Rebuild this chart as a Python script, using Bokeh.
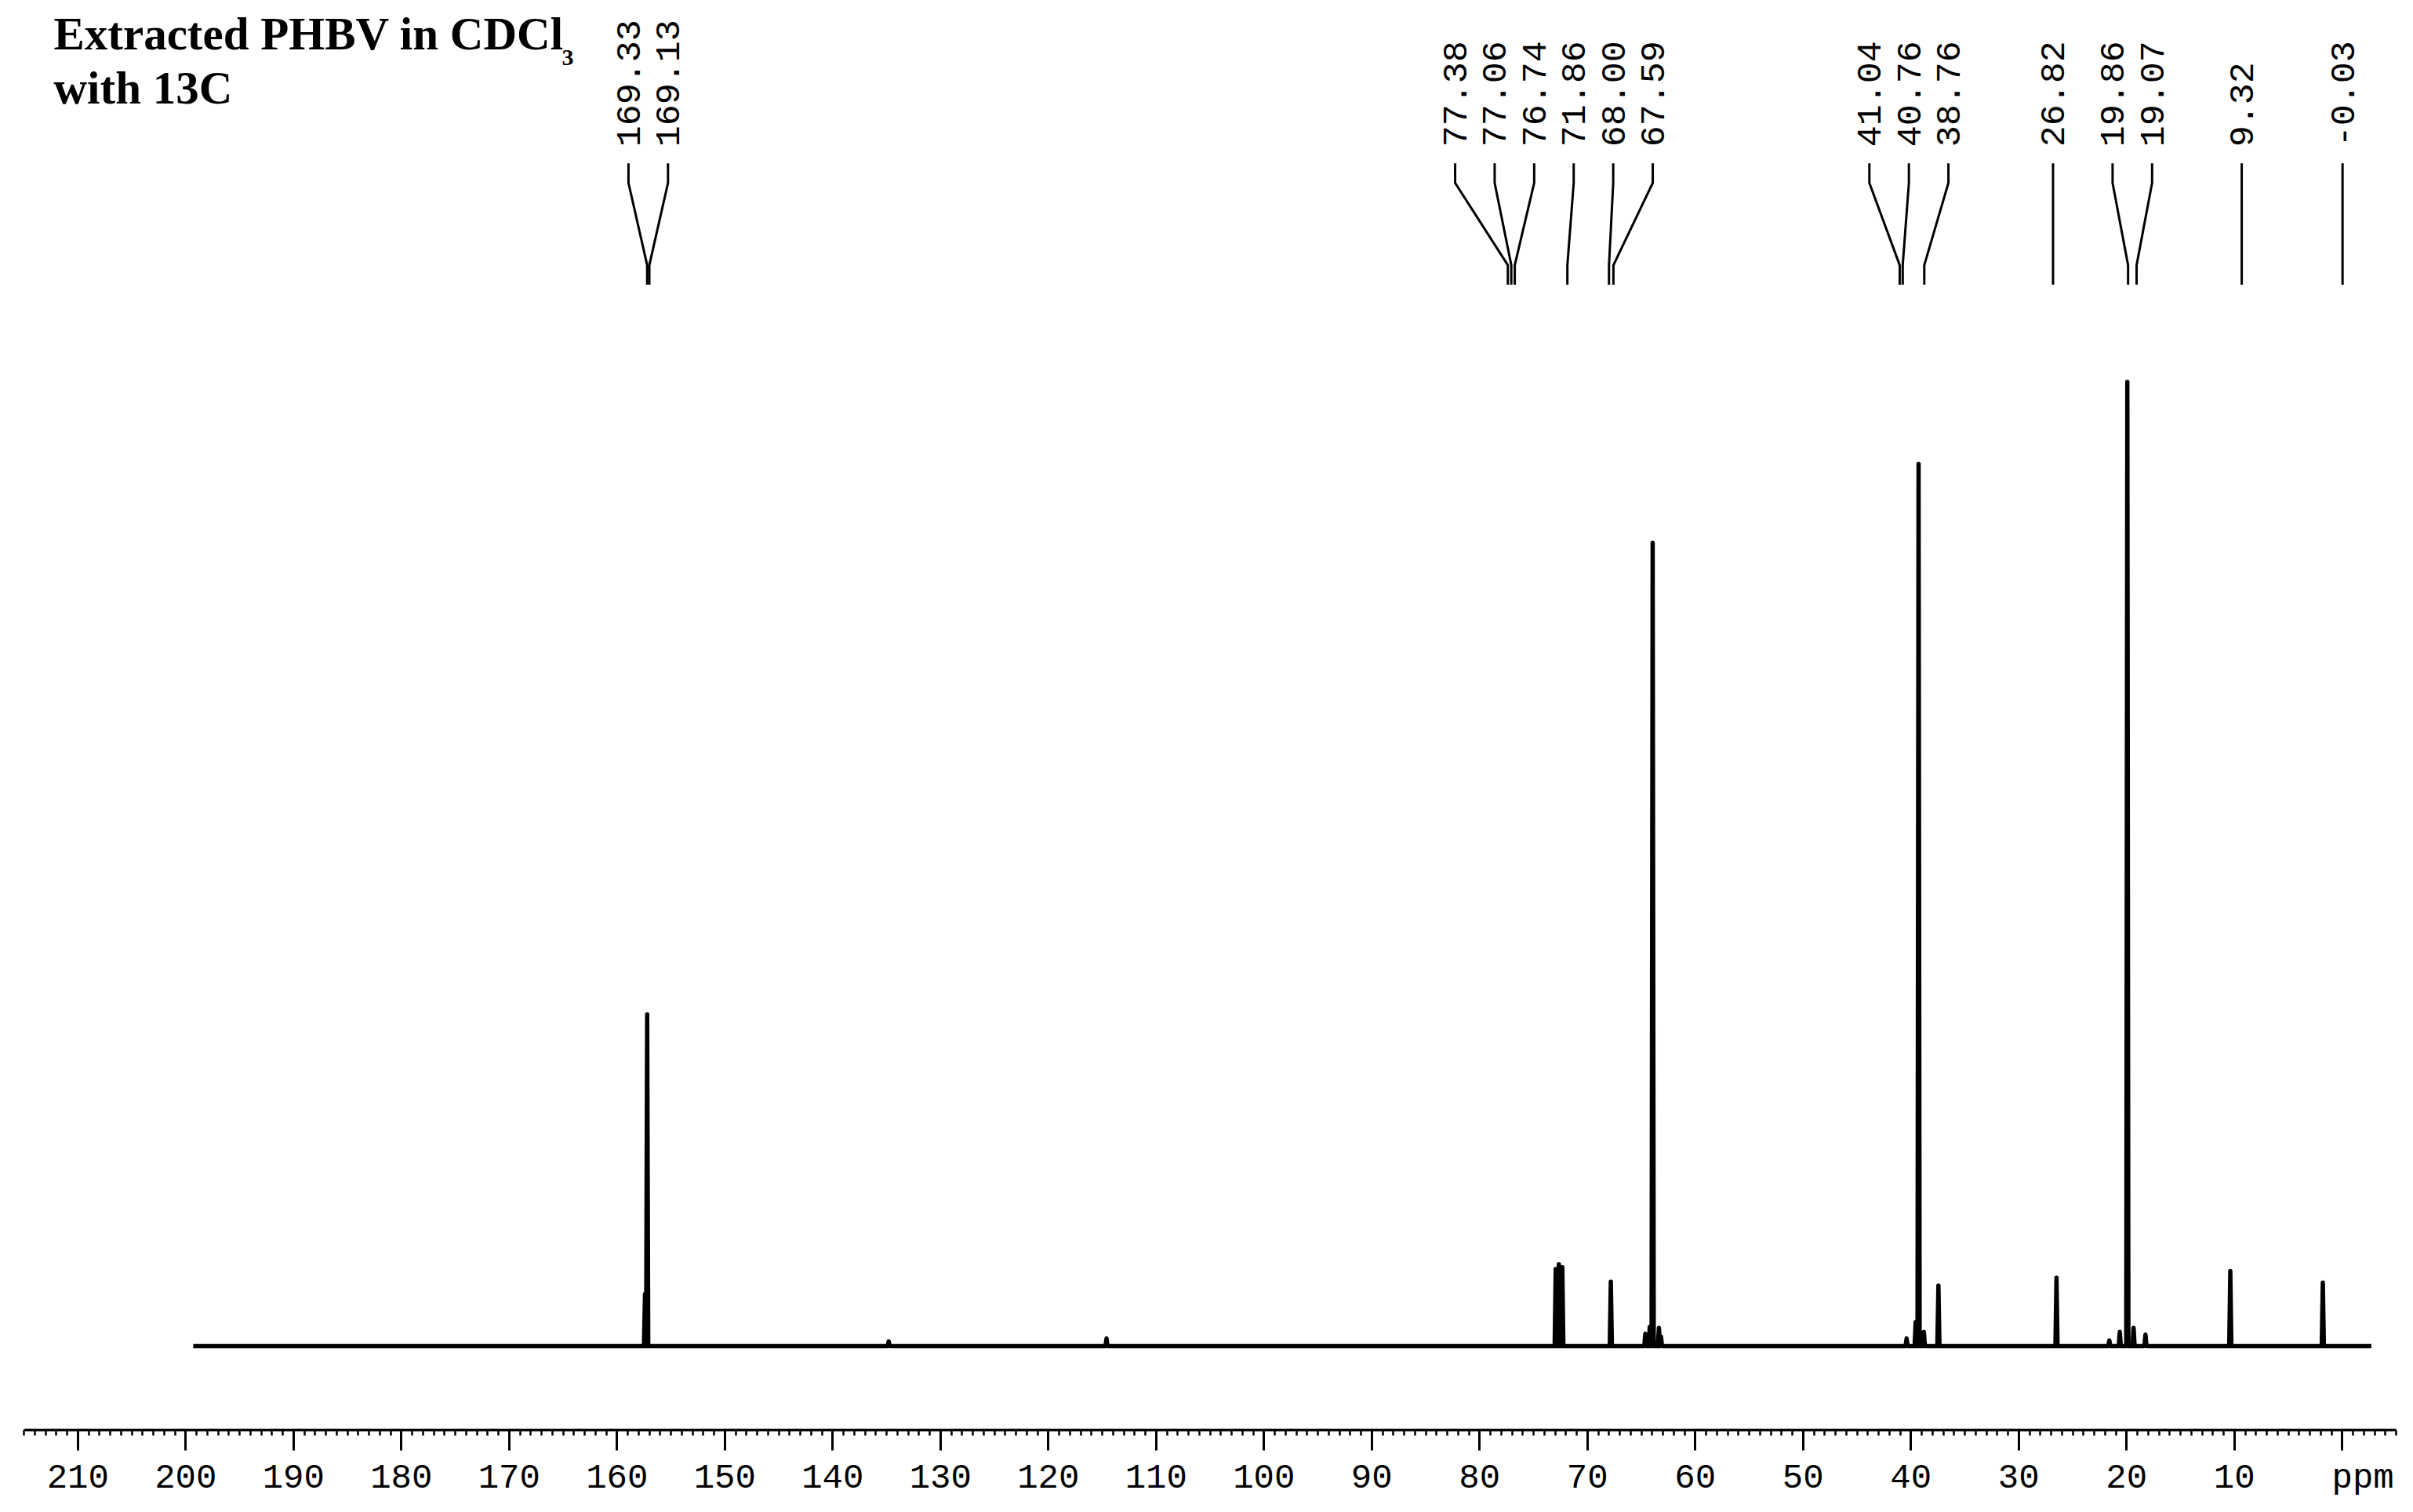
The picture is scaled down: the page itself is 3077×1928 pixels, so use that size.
import numpy as np
from bokeh.plotting import figure
from bokeh.models import Range1d, SingleIntervalTicker
from bokeh.core.properties import value
from bokeh.embed import file_html
from bokeh.resources import INLINE

# ---------------- data ----------------
# peak annotation labels and the axis position (ppm) each connector points to
peak_labels = ["169.33", "169.13", "77.38", "77.06", "76.74", "71.86", "68.00", "67.59",
               "41.04", "40.76", "38.76", "26.82", "19.86", "19.07", "9.32", "-0.03"]
label_target_ppm = [157.2, 157.0, 77.38, 77.06, 76.74, 71.86, 68.00, 67.59,
                    41.04, 40.76, 38.76, 26.82, 19.86, 19.07, 9.32, -0.03]

# spectrum peaks as drawn on the axis (ppm) and relative intensity (tallest = 100)
peak_ppm = [157.4, 157.2, 134.8, 114.6, 72.94, 72.65, 72.33, 67.83, 64.63, 64.22, 63.95,
            63.37, 63.18, 40.4, 39.56, 39.29, 38.8, 37.45, 26.5, 21.6, 20.63, 19.93,
            19.35, 18.25, 10.38, 1.80]
peak_intensity = [5.4, 34.4, 0.5, 0.8, 8.0, 8.5, 8.2, 6.7, 1.3, 2.0, 83.3,
                  1.9, 1.0, 0.8, 2.5, 91.5, 1.5, 6.3, 7.1, 0.6, 1.5, 100.0,
                  1.9, 1.2, 7.8, 6.6]
spectrum_start_ppm = 199.3
spectrum_end_ppm = -2.7

axis_tick_interval = 10
axis_label_overrides = {0: "\u00a0\u00a0ppm"}

title_line1 = "Extracted PHBV in CDCl"
title_sub = "3"
title_line2 = "with 13C"

# ---------------- layout ----------------
W, H = 3061, 1912
BORDER_L = 30
FRAME_W = 3025
BORDER_R = W - BORDER_L - FRAME_W
FRAME_BOTTOM = 1825          # canvas y of the axis line
BASELINE_Y = 1718            # canvas y of spectrum baseline
PX_PER_UNIT = 12.31          # px per intensity unit
PPM_LEFT, PPM_RIGHT = 215, -5
px_per_ppm = FRAME_W / (PPM_LEFT - PPM_RIGHT)

p = figure(width=W, height=H, output_backend="svg", toolbar_location=None,
           x_range=Range1d(PPM_LEFT, PPM_RIGHT),
           y_range=Range1d(-(FRAME_BOTTOM - BASELINE_Y) / PX_PER_UNIT, BASELINE_Y / PX_PER_UNIT),
           y_axis_location=None, min_border_left=BORDER_L, min_border_right=BORDER_R,
           min_border_top=0, min_border_bottom=H - FRAME_BOTTOM)
p.extra_y_ranges = {"px": Range1d(start=FRAME_BOTTOM, end=0)}
p.extra_x_ranges = {"px": Range1d(start=BORDER_L, end=BORDER_L + FRAME_W)}
p.outline_line_color = None
p.xgrid.visible = False
p.ygrid.visible = False
p.background_fill_color = "white"
p.border_fill_color = "white"

ax = p.xaxis[0]
ax.ticker = SingleIntervalTicker(interval=axis_tick_interval, num_minor_ticks=10)
ax.major_label_overrides = axis_label_overrides
ax.axis_line_width = 3.5
ax.axis_line_color = "black"
ax.major_tick_in = 0
ax.major_tick_out = 26
ax.minor_tick_in = 0
ax.minor_tick_out = 7
ax.major_tick_line_width = 3
ax.minor_tick_line_width = 2.5
ax.major_tick_line_color = "black"
ax.minor_tick_line_color = "black"
ax.major_label_text_font = "Liberation Mono"
ax.major_label_text_font_size = "44px"
ax.major_label_text_color = "black"
ax.major_label_standoff = 10

# ---------------- spectrum trace ----------------
half_w = 0.1
order = np.argsort(peak_ppm)[::-1]
sx = [spectrum_start_ppm]
sy = [0.0]
for i in order:
    c, h = peak_ppm[i], peak_intensity[i]
    sx += [c + half_w, c, c - half_w]
    sy += [0.0, h, 0.0]
sx.append(spectrum_end_ppm)
sy.append(0.0)
p.line(sx, sy, line_color="black", line_width=5.5, line_join="round")

# ---------------- peak labels with connectors ----------------
SLOT_PX = 50.4
target_px = [(PPM_LEFT - t) * px_per_ppm for t in label_target_ppm]
clusters = [[i] for i in range(len(target_px))]

def span(cl):
    c = np.mean([target_px[i] for i in cl])
    half = (len(cl) - 1) / 2 * SLOT_PX
    return c - half, c + half

merged = True
while merged:
    merged = False
    for k in range(len(clusters) - 1):
        if span(clusters[k + 1])[0] - span(clusters[k])[1] < SLOT_PX:
            clusters[k] = clusters[k] + clusters[k + 1]
            del clusters[k + 1]
            merged = True
            break

slot_ppm = [0.0] * len(target_px)
for cl in clusters:
    left, _ = span(cl)
    for j, i in enumerate(cl):
        slot_ppm[i] = PPM_LEFT - (left + j * SLOT_PX) / px_per_ppm

Y_TEXT, Y_TOP, Y_ELB1, Y_ELB2, Y_BOT = 187, 208, 233, 338, 363
xs = [[s, s, t, t] for s, t in zip(slot_ppm, label_target_ppm)]
ys = [[Y_TOP, Y_ELB1, Y_ELB2, Y_BOT] for _ in slot_ppm]
p.multi_line(xs, ys, line_color="black", line_width=3, y_range_name="px")

p.text(x=slot_ppm, y=[Y_TEXT] * len(slot_ppm), text=peak_labels, angle=np.pi / 2,
       text_align="left", text_baseline="middle", text_font=value("Liberation Mono"),
       text_font_size="45px", text_color="black", y_range_name="px")

# ---------------- title ----------------
p.text(x=[68], y=[43], text=[title_line1], text_font=value("Liberation Serif"),
       text_font_style="bold", text_font_size="59px", text_align="left",
       text_baseline="middle", text_color="black", x_range_name="px", y_range_name="px")
p.text(x=[716], y=[73], text=[title_sub], text_font=value("Liberation Serif"),
       text_font_style="bold", text_font_size="30px", text_align="left",
       text_baseline="middle", text_color="black", x_range_name="px", y_range_name="px")
p.text(x=[68], y=[112], text=[title_line2], text_font=value("Liberation Serif"),
       text_font_style="bold", text_font_size="59px", text_align="left",
       text_baseline="middle", text_color="black", x_range_name="px", y_range_name="px")

open("out.html", "w").write(file_html(p, INLINE))
